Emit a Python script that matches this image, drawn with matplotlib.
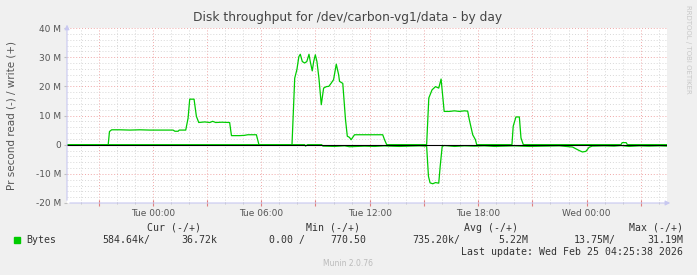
import matplotlib
matplotlib.use("Agg")
import matplotlib.pyplot as plt
from matplotlib.ticker import MultipleLocator, FuncFormatter

# hours relative to Tue 00:00, values in M bytes per second
write_t = [-4.75, -2.47, -2.40, -2.28, -1.82, -1.27, -0.72, -0.17, 0.39, 1.12, 1.22, 1.40, 1.46,
           1.82, 1.95, 2.04, 2.28, 2.41, 2.54, 2.87, 3.15, 3.31, 3.48, 3.81, 4.25, 4.35, 4.81,
           5.08, 5.25, 5.73, 5.87, 7.70, 7.85, 7.97, 8.08, 8.16, 8.27, 8.40, 8.52, 8.64, 8.71,
           8.82, 8.90, 8.99, 9.08, 9.19, 9.32, 9.45, 9.60, 9.74, 9.87, 10.00, 10.15, 10.28,
           10.33, 10.51, 10.66, 10.76, 10.88, 10.97, 11.16, 11.44, 11.99, 12.54, 12.72, 12.82,
           12.94, 15.15, 15.27, 15.45, 15.64, 15.82, 15.95, 16.12, 16.41, 16.69, 16.96, 17.24,
           17.42, 17.51, 17.70, 17.85, 17.92, 19.87, 19.94, 20.09, 20.28, 20.37, 20.50, 25.90,
           25.97, 26.19, 26.26, 28.45]
write_v = [0, 0, 4.5, 5.1, 5.1, 5.0, 5.1, 5.0, 5.0, 5.0, 4.6, 4.6, 5.0,
           5.0, 9.1, 15.6, 15.6, 9.7, 7.6, 7.8, 7.6, 8.0, 7.6, 7.7, 7.6, 3.1, 3.1,
           3.2, 3.4, 3.4, 0, 0, 22.8, 25.7, 30.2, 31.0, 28.5, 28.0, 28.5, 31.0, 28.5,
           25.3, 28.5, 30.8, 28.5, 22.8, 13.7, 19.4, 19.9, 20.0, 21.1, 22.3, 27.6, 24.0,
           21.7, 21.0, 8.6, 2.9, 2.5, 1.7, 3.4, 3.4, 3.4, 3.4, 3.4, 1.7,
           0, 0, 16.0, 18.8, 19.9, 19.4, 22.5, 11.4, 11.4, 11.6, 11.4, 11.6,
           11.5, 8.6, 3.4, 1.7, 0, 0, 6.3, 9.5, 9.5, 2.3, 0, 0,
           0.7, 0.7, 0, 0]

read_t = [-4.75, 8.40, 8.45, 8.56, 9.34, 9.41, 10.06, 10.61, 10.88, 11.71, 12.27, 12.82, 13.09,
          13.65, 14.20, 14.75, 15.15, 15.25, 15.34, 15.49, 15.64, 15.82, 15.90, 16.01, 16.13,
          16.69, 17.24, 17.79, 18.34, 18.90, 19.45, 20.00, 20.83, 21.66, 22.49, 23.22, 23.59,
          23.77, 23.96, 24.14, 24.31, 24.97, 25.52, 25.91, 26.35, 26.91, 27.46, 28.01, 28.45]
read_v = [0, 0, -0.5, 0, 0, -0.5, -0.6, -0.4, -0.7, -0.5, -0.6, -0.4, -0.5,
          -0.6, -0.5, -0.4, -0.5, -10.8, -13.1, -13.4, -13.0, -13.2, -7.4, -0.6, -0.3,
          -0.6, -0.4, -0.5, -0.4, -0.6, -0.5, -0.4, -0.6, -0.5, -0.4, -0.8, -2.0,
          -2.5, -2.3, -0.9, -0.5, -0.4, -0.5, -0.3, -0.6, -0.4, -0.5, -0.4, -0.5]

tick_hours = [0, 6, 12, 18, 24]
tick_names = ["Tue 00:00", "Tue 06:00", "Tue 12:00", "Tue 18:00", "Wed 00:00"]

W, H = 697, 275
fig = plt.figure(figsize=(W / 100, H / 100), dpi=100, facecolor="#F0F0F0")
ax = fig.add_axes([67 / W, 1 - 203 / H, (667 - 67) / W, (203 - 28) / H], facecolor="white")

green = "#00CC00"
ax.plot(read_t, read_v, color=green, lw=0.9)
ax.plot(write_t, write_v, color=green, lw=0.9)
ax.axhline(0, color="black", lw=0.8)

ax.set_xlim(-4.75, 28.45)
ax.set_ylim(-20, 40)

ax.xaxis.set_major_locator(MultipleLocator(3))
ax.xaxis.set_minor_locator(MultipleLocator(1))
ax.yaxis.set_major_locator(MultipleLocator(10))
ax.yaxis.set_minor_locator(MultipleLocator(2))

def xfmt(v, pos):
    for h, n in zip(tick_hours, tick_names):
        if abs(v - h) < 0.01:
            return n
    return ""

ax.xaxis.set_major_formatter(FuncFormatter(xfmt))
ax.yaxis.set_major_formatter(FuncFormatter(lambda v, p: "0" if v == 0 else f"{v:.0f} M"))

ax.grid(which="minor", color="#D8D8D8", ls=(0, (1, 2)), lw=0.7)
ax.grid(which="major", color="#F0A8A8", ls=(0, (1, 2)), lw=0.7)
ax.set_axisbelow(True)

for s in ax.spines.values():
    s.set_visible(False)
ax.tick_params(axis="both", which="major", labelsize=6.5, labelcolor="#555555", pad=2)
ax.tick_params(axis="x", which="major", color="#E08080", direction="inout", length=4)
ax.tick_params(axis="x", which="minor", color="#C0C0C0", direction="inout", length=2)
ax.tick_params(axis="y", which="major", color="#C0C0C0", direction="out", length=2)
ax.tick_params(axis="y", which="minor", length=0)

# axis lines with arrows, munin style
axc = "#C8C8F0"
ax.annotate("", xy=(1.01, 0), xytext=(0, 0), xycoords="axes fraction",
            arrowprops=dict(arrowstyle="-|>", color=axc, lw=0.8, mutation_scale=7), annotation_clip=False)
ax.annotate("", xy=(0, 1.035), xytext=(0, 0), xycoords="axes fraction",
            arrowprops=dict(arrowstyle="-|>", color=axc, lw=0.8, mutation_scale=7), annotation_clip=False)

def px(x, y):
    return x / W, 1 - y / H

fig.text(*px(12, 116), "Pr second read (-) / write (+)", rotation=90, ha="center", va="center",
         fontsize=7.5, color="#555555")
fig.text(*px(348, 17), "Disk throughput for /dev/carbon-vg1/data - by day",
         ha="center", va="center", fontsize=8.8, color="#444444")
fig.text(*px(688, 5), "RRDTOOL / TOBI OETIKER", rotation=270, ha="center", va="top",
         fontsize=5, color="#C8C8C8")

mono = dict(family="DejaVu Sans Mono", fontsize=7.1, color="#333333", va="center")
for x, s in [(201, "Cur (-/+)"), (360, "Min (-/+)"), (518, "Avg (-/+)"), (683, "Max (-/+)")]:
    fig.text(*px(x, 228), s, ha="right", **mono)
fig.patches.append(plt.Rectangle(px(14, 243), 6 / W, 6 / H, transform=fig.transFigure,
                                 color=green, figure=fig))
fig.text(*px(26, 240), "Bytes", ha="left", **mono)
for x, s in [(150, "584.64k/"), (217, "36.72k"), (305, "0.00 /"), (366, "770.50"),
             (460, "735.20k/"), (528, "5.22M"), (616, "13.75M/"), (683, "31.19M")]:
    fig.text(*px(x, 240), s, ha="right", **mono)
fig.text(*px(683, 252), "Last update: Wed Feb 25 04:25:38 2026", ha="right", **mono)
fig.text(*px(348, 263), "Munin 2.0.76", ha="center", va="center", fontsize=5.5, color="#BBBBBB")

fig.savefig("out.png", dpi=100, facecolor=fig.get_facecolor())
